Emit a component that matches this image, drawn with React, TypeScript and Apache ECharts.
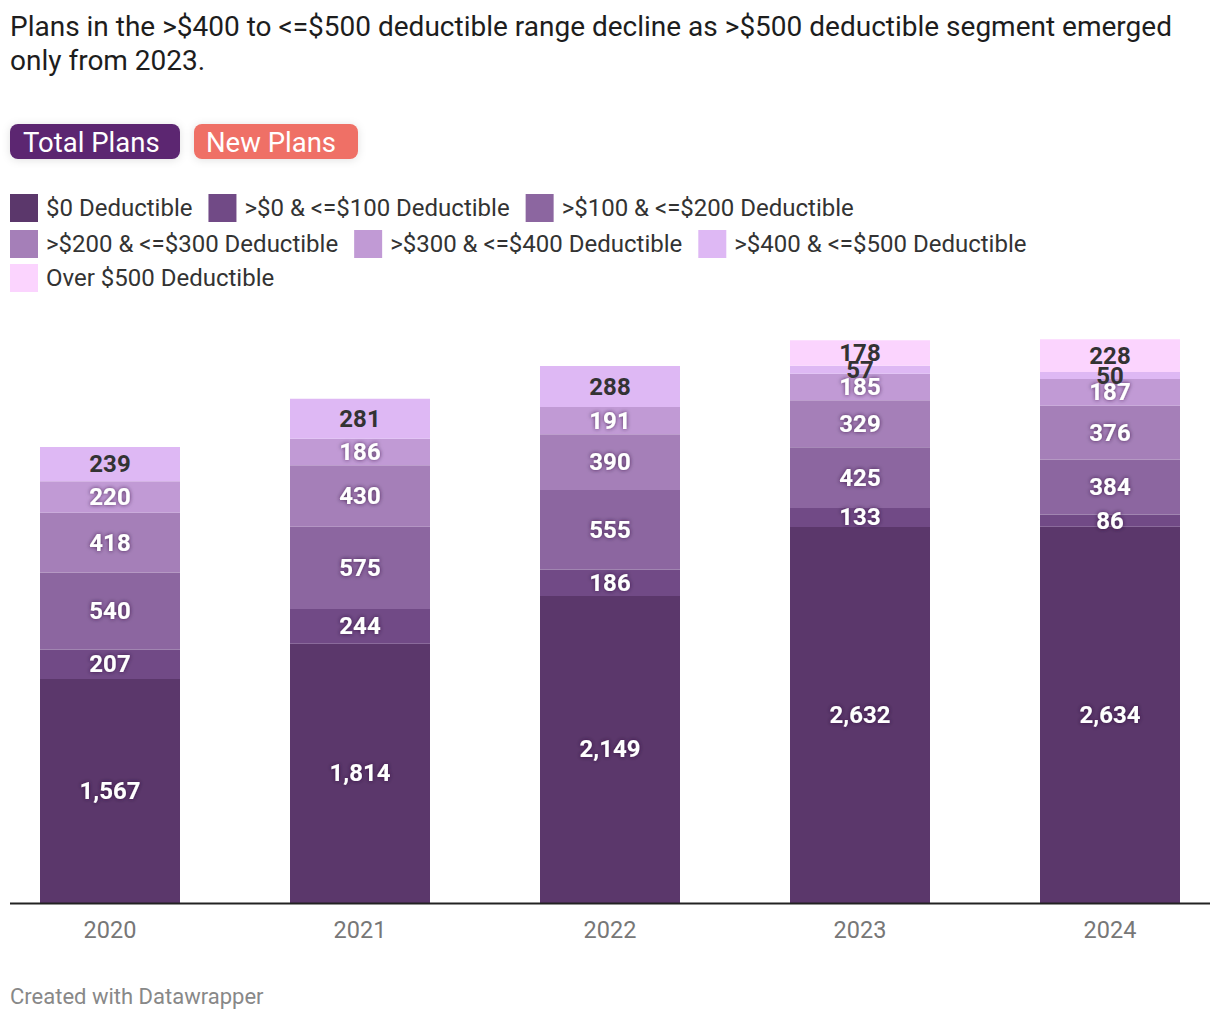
import React, { useEffect, useRef } from "react";
import * as echarts from "echarts";

const years = ["2020", "2021", "2022", "2023", "2024"];
const seriesNames = [
  "$0 Deductible",
  ">$0 & <=$100 Deductible",
  ">$100 & <=$200 Deductible",
  ">$200 & <=$300 Deductible",
  ">$300 & <=$400 Deductible",
  ">$400 & <=$500 Deductible",
  "Over $500 Deductible",
];
const d0 = [1567, 1814, 2149, 2632, 2634];
const d0to100 = [207, 244, 186, 133, 86];
const d100to200 = [540, 575, 555, 425, 384];
const d200to300 = [418, 430, 390, 329, 376];
const d300to400 = [220, 186, 191, 185, 187];
const d400to500 = [239, 281, 288, 57, 50];
const dOver500 = [null, null, null, 178, 228];
const seriesData = [d0, d0to100, d100to200, d200to300, d300to400, d400to500, dOver500];
const colors = ["#5b376b", "#714a86", "#8c66a0", "#a57fb8", "#c19ad5", "#deb8f4", "#fbd4fe"];
const darkLabel = [false, false, false, false, false, true, true];

export default function App() {
  const ref = useRef<HTMLDivElement>(null);
  useEffect(() => {
    const chart = echarts.init(ref.current!, null, { renderer: "svg" });
    const font = "Roboto, 'Noto Sans', sans-serif";
    const legendBase = {
      icon: "rect",
      itemWidth: 28,
      itemHeight: 28,
      itemGap: 16,
      left: 10,
      padding: 0,
      selectedMode: false,
      textStyle: { fontSize: 24, color: "#333", fontFamily: font, padding: [0, 0, 0, 3] },
    };
    chart.setOption({
      animation: false,
      textStyle: { fontFamily: font },
      legend: [
        { ...legendBase, top: 194, data: seriesNames.slice(0, 3) },
        { ...legendBase, top: 230, data: seriesNames.slice(3, 6) },
        { ...legendBase, top: 264, data: seriesNames.slice(6) },
      ],
      grid: { left: 110, right: 110, top: 331.5, bottom: 117, containLabel: false },
      xAxis: {
        type: "category",
        data: years,
        boundaryGap: false,
        axisLine: { show: false },
        axisTick: { show: false },
        axisLabel: { fontSize: 23.5, color: "#777", margin: 15, fontFamily: font },
      },
      yAxis: {
        type: "value",
        min: 0,
        max: 4000,
        show: false,
        splitLine: { show: false },
      },
      graphic: [
        {
          type: "text",
          left: 10,
          top: 9,
          style: {
            text: "Plans in the >$400 to <=$500 deductible range decline as >$500 deductible segment emerged\nonly from 2023.",
            fontSize: 28,
            lineHeight: 34,
            fill: "#1d1d1d",
            fontFamily: font,
          },
        },
        {
          type: "rect",
          shape: { x: 10, y: 124, width: 170, height: 35, r: 8 },
          style: { fill: "#5b2571", shadowBlur: 8, shadowColor: "rgba(0,0,0,0.12)", shadowOffsetY: 1 },
        },
        {
          type: "text",
          x: 23,
          y: 142,
          style: { text: "Total Plans", fontSize: 27.5, fill: "#fff", fontFamily: font, verticalAlign: "middle" },
        },
        {
          type: "rect",
          shape: { x: 194, y: 124, width: 164, height: 35, r: 8 },
          style: { fill: "#ef6f66", shadowBlur: 8, shadowColor: "rgba(0,0,0,0.12)", shadowOffsetY: 1 },
        },
        {
          type: "text",
          x: 206,
          y: 142,
          style: { text: "New Plans", fontSize: 27.5, fill: "#fff", fontFamily: font, verticalAlign: "middle" },
        },
        {
          type: "line",
          shape: { x1: 10, y1: 903.5, x2: 1210, y2: 903.5 },
          style: { stroke: "#222", lineWidth: 2 },
          z: 100,
        },
        {
          type: "text",
          left: 10,
          top: 985,
          style: { text: "Created with Datawrapper", fontSize: 22, fill: "#888", fontFamily: font },
        },
      ],
      series: seriesNames.map((name, i) => ({
        name,
        type: "bar",
        stack: "total",
        barWidth: 140,
        data: seriesData[i],
        itemStyle: { color: colors[i] },
        label: {
          show: true,
          position: "inside",
          offset: [0, 2],
          fontSize: 24,
          fontWeight: "bold",
          fontFamily: font,
          color: darkLabel[i] ? "#333" : "#fff",
          textShadowColor: darkLabel[i] ? "transparent" : "rgba(40,10,50,0.75)",
          textShadowBlur: darkLabel[i] ? 0 : 4,
          formatter: (p: any) => (p.value == null ? "" : Number(p.value).toLocaleString("en-US")),
        },
        labelLayout: { hideOverlap: false },
      })),
    });
    return () => chart.dispose();
  }, []);
  return (
    <div
      ref={ref}
      style={{ position: "absolute", left: 0, top: 0, width: 1220, height: 1020, background: "#fff" }}
    />
  );
}
